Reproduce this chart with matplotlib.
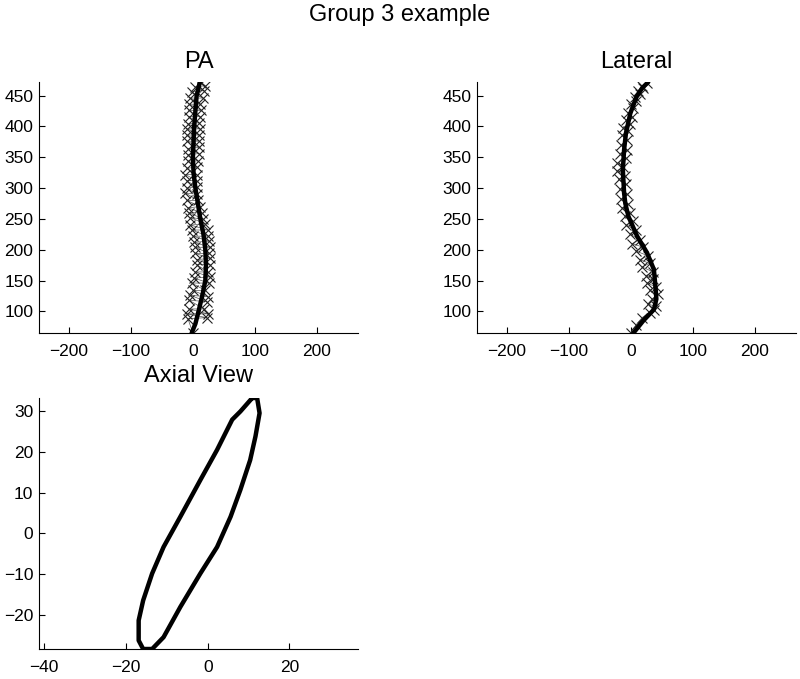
import matplotlib
matplotlib.use("Agg")
import matplotlib.pyplot as plt

plt.rcParams['font.family'] = ['Liberation Sans', 'DejaVu Sans']

# ---------------- data ----------------
pa_curve_x = [-2, 4, 9, 15, 20, 21, 20, 17, 12, 8, 4, 1, 0, 1, 2, 4, 6, 9, 11]
pa_curve_y = [65, 80, 100, 125, 150, 175, 200, 225, 250, 275, 300, 325, 350, 375, 400, 425, 450, 462, 472]

pa_pts_x = [0, -8, 22, -10, 24, -6, 18,
            -6, 22, -4, 24, 0, 20,
            -2, 26, 2, 27, 4, 24,
            6, 28, 6, 28, 4, 26,
            4, 28, 2, 26, 0, 24,
            -2, 24, -4, 20, -4, 16,
            -6, 14, -8, 12, -10, 8,
            -12, 6, -10, 6, -10, 6,
            -12, 6, -10, 6, -8, 8,
            -8, 10, -8, 10, -9, 9,
            -10, 10, -9, 11, -8, 10,
            -7, 12, -7, 13, -6, 12,
            -4, 16, -2, 18, 4, 20, 13]
pa_pts_y = [65, 88, 90, 96, 96, 104, 104,
            118, 116, 126, 124, 134, 134,
            146, 146, 154, 156, 164, 164,
            176, 176, 184, 186, 194, 194,
            204, 204, 212, 214, 222, 222,
            232, 232, 240, 242, 252, 250,
            260, 260, 268, 270, 280, 280,
            292, 290, 300, 302, 312, 312,
            322, 322, 332, 334, 344, 344,
            354, 356, 364, 366, 376, 376,
            386, 386, 396, 396, 404, 406,
            416, 416, 426, 426, 436, 436,
            446, 446, 456, 458, 464, 466, 470]

lat_curve_x = [4, 20, 37, 41, 40, 37, 26, 10, -4, -9, -11, -13, -12, -11, -8, -1, 9, 18, 28]
lat_curve_y = [65, 85, 103, 120, 135, 168, 195, 222, 254, 275, 292, 330, 345, 362, 389, 421, 448, 462, 472]

lat_pts_x = [0, 8, 18, 30, 37, 40, 28, 34, 43, 30, 40, 26, 36, 24, 36, 18, 30, 14, 28, 8, 20,
             2, 14, -2, 8, -8, 4, -10, -2, -14, -4, -16, -6, -18, -8, -20, -10, -23, -12, -22,
             -8, -18, -6, -16, -6, -14, -4, -12, -2, -8, 2, -4, 4, 0, 8, 6, 14, 12, 20, 18, 26]
lat_pts_y = [65, 78, 90, 98, 102, 108, 112, 120, 128, 134, 140, 146, 152, 158, 164, 172, 178, 184, 190, 198, 204,
             210, 216, 226, 232, 240, 246, 254, 260, 268, 274, 282, 290, 298, 306, 314, 320, 328, 334, 340,
             348, 356, 362, 370, 378, 386, 392, 398, 404, 410, 416, 422, 430, 436, 442, 448, 452, 458, 462, 466, 470]

axial_x = [10.9, 12.1, 12.7, 11.7, 10.4, 8.0, 5.6, 2.3, -1.8, -6.7, -10.8, -13.6, -15.8, -16.9,
           -16.9, -15.8, -13.6, -10.8, -6.7, -1.8, 2.3, 6.0, 8.0, 10.9]
axial_y = [33.2, 33.2, 29.5, 23.8, 18.0, 10.7, 4.1, -3.3, -9.8, -18.0, -25.4, -28.3, -28.3, -26.2,
           -21.3, -16.4, -9.8, -3.3, 4.1, 13.1, 20.5, 27.9, 29.9, 33.2]

spine_ticks = [-200, -100, 0, 100, 200]
spine_yticks = [100, 150, 200, 250, 300, 350, 400, 450]
axial_xticks = [-40, -20, 0, 20]
axial_yticks = [-20, -10, 0, 10, 20, 30]

# ---------------- figure ----------------
W, H = 800, 679
fig = plt.figure(figsize=(W / 100, H / 100), dpi=100)


def px_axes(l, t, r, b):
    return fig.add_axes([l / W, 1 - b / H, (r - l) / W, (b - t) / H])


def style(ax):
    for s in ['top', 'right']:
        ax.spines[s].set_visible(False)
    for s in ['left', 'bottom']:
        ax.spines[s].set_linewidth(0.8)
    ax.tick_params(direction='in', length=4, width=0.8, labelsize=12.5)
    ax.tick_params(axis='y', pad=4)
    ax.tick_params(axis='x', pad=8)


ax1 = px_axes(39, 82, 358, 333)
ax2 = px_axes(477, 82, 796, 333)
ax3 = px_axes(39, 398, 358, 649)

for ax, title, cx, cy, px_, py_ in [
    (ax1, 'PA', pa_curve_x, pa_curve_y, pa_pts_x, pa_pts_y),
    (ax2, 'Lateral', lat_curve_x, lat_curve_y, lat_pts_x, lat_pts_y),
]:
    ax.plot(px_, py_, color='#555555', lw=0.5, marker='x', ms=6.5, mew=0.8, mec='#222222')
    ax.plot(cx, cy, color='black', lw=3.2, solid_capstyle='round')
    ax.set_xlim(-248, 266)
    ax.set_ylim(65, 472)
    ax.set_xticks(spine_ticks)
    ax.set_yticks(spine_yticks)
    style(ax)
    ax.set_title(title, fontsize=17, pad=10)

ax3.plot(axial_x, axial_y, color='black', lw=3.2, solid_joinstyle='round')
ax3.set_xlim(-41.3, 36.8)
ax3.set_ylim(-28.3, 33.2)
ax3.set_xticks(axial_xticks)
ax3.set_yticks(axial_yticks)
style(ax3)
ax3.set_title('Axial View', fontsize=17, pad=11.5)

fig.text(0.5, 1 - 15 / H, 'Group 3 example', ha='center', va='center', fontsize=17)

fig.savefig('out.png', dpi=100)
